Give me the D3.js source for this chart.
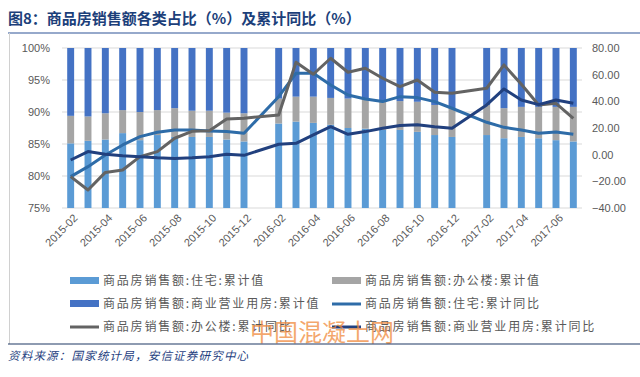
<!DOCTYPE html>
<html>
<head>
<meta charset="utf-8">
<script src="https://cdn.jsdelivr.net/npm/d3@7"></script>
<style>
	body{ margin:0; background:#fff; }
	svg text{ font-family:"Noto Sans CJK SC","Noto Sans",sans-serif; }
</style>
</head>
<body>
<div id="chart"></div>
<script>
// months (January has no data in the source, so it stays empty)
var categories = [
	"2015-02","2015-03","2015-04","2015-05","2015-06","2015-07","2015-08","2015-09","2015-10","2015-11","2015-12",
	"2016-01","2016-02","2016-03","2016-04","2016-05","2016-06","2016-07","2016-08","2016-09","2016-10","2016-11","2016-12",
	"2017-01","2017-02","2017-03","2017-04","2017-05","2017-06","2017-07"
];
var tickLabels = ["2015-02","2015-04","2015-06","2015-08","2015-10","2015-12",
	"2016-02","2016-04","2016-06","2016-08","2016-10","2016-12","2017-02","2017-04","2017-06"];

// shares (%)
var residentialShare = [85.1,85.5,85.7,86.7,85.6,86.4,86.1,86.1,86.1,85.7,85.4,
	null,88.2,88.5,88.3,88.0,87.5,87.4,87.2,87.2,86.9,86.4,86.1,
	null,86.4,85.9,86.1,85.9,85.6,85.4];
var officeShare = [4.3,3.8,4.1,3.6,4.4,3.9,4.5,4.1,4.1,4.2,4.4,
	null,3.9,3.9,4.1,4.2,4.6,4.6,4.5,4.5,4.7,4.7,4.5,
	null,4.7,4.7,4.7,4.9,5.2,5.4];
var commercialShare = [10.6,10.7,10.2,9.7,10.0,9.7,9.4,9.8,9.8,10.1,10.2,
	null,7.9,7.6,7.6,7.8,7.9,8.0,8.3,8.3,8.4,8.9,9.4,
	null,8.9,9.4,9.2,9.2,9.2,9.2];

// cumulative YoY (%)
var residentialYoY = [-16.5,-9.0,-0.3,7.3,13.5,16.8,18.5,18.5,17.8,17.3,16.0,
	null,43.5,61.0,61.0,52.3,44.8,41.8,39.8,43.5,42.8,39.8,34.8,
	null,24.3,20.5,18.5,16.0,17.0,15.3];
var officeYoY = [-16.5,-26.5,-13.3,-11.5,-1.5,2.3,12.3,17.5,18.0,26.8,27.3,
	null,29.8,69.3,60.3,72.3,61.8,64.8,57.3,51.0,56.0,46.8,46.0,
	null,49.8,67.3,52.8,37.3,38.5,27.3];
var commercialYoY = [-4.0,2.3,0.3,-0.8,-1.5,-2.3,-2.8,-2.3,-1.5,0.3,-0.5,
	null,7.8,8.5,14.8,21.0,15.3,17.3,19.8,21.8,22.5,21.0,19.8,
	null,37.3,49.3,41.0,37.5,41.0,38.5];

var leftTicks = [75,80,85,90,95,100];
var rightTicks = [-40,-20,0,20,40,60,80];

var W = 640, H = 377;
var plot = {left:62, right:582, top:48, bottom:208};

var svg = d3.select("#chart").append("svg")
	.attr("width", W).attr("height", H);

// title
svg.append("text")
	.attr("x", 8).attr("y", 24)
	.attr("font-size", 15).attr("font-weight", "bold")
	.attr("fill", "#1c3f7a")
	.text("图8：商品房销售额各类占比（%）及累计同比（%）");
svg.append("line")
	.attr("x1", 8).attr("x2", W).attr("y1", 33).attr("y2", 33)
	.attr("stroke", "#2f5597").attr("stroke-width", 1.2);
svg.append("line")
	.attr("x1", 9.5).attr("x2", 9.5).attr("y1", 33).attr("y2", 344)
	.attr("stroke", "#d0d0d0").attr("stroke-width", 1);

var x = d3.scaleBand().domain(categories).range([plot.left, plot.right]).padding(0);
var yL = d3.scaleLinear().domain([75, 100]).range([plot.bottom, plot.top]);
var yR = d3.scaleLinear().domain([-40, 80]).range([plot.bottom, plot.top]);
var cx = function(c){ return x(c) + x.bandwidth()/2; };

// grid
svg.append("g").selectAll("line").data(leftTicks).enter().append("line")
	.attr("x1", plot.left).attr("x2", plot.right)
	.attr("y1", function(d){ return yL(d); }).attr("y2", function(d){ return yL(d); })
	.attr("stroke", "#d9d9d9").attr("stroke-width", 1);

// left axis
var axL = svg.append("g").attr("transform", "translate(" + plot.left + ",0)")
	.call(d3.axisLeft(yL).tickValues(leftTicks).tickSize(0).tickPadding(12)
		.tickFormat(function(d){ return d + "%"; }));
axL.select(".domain").remove();
axL.selectAll("text").attr("font-size", 11).attr("fill", "#595959")
	.style("font-family", "'Liberation Sans','DejaVu Sans',sans-serif");

// right axis
var axR = svg.append("g").attr("transform", "translate(" + plot.right + ",0)")
	.call(d3.axisRight(yR).tickValues(rightTicks).tickSize(0).tickPadding(10)
		.tickFormat(d3.format(".2f")));
axR.select(".domain").remove();
axR.selectAll("text").attr("font-size", 11).attr("fill", "#595959")
	.style("font-family", "'Liberation Sans','DejaVu Sans',sans-serif");

// x axis labels
svg.append("g").selectAll("text").data(tickLabels).enter().append("text")
	.attr("transform", function(d){ return "translate(" + (cx(d) + 5) + "," + (plot.bottom + 8) + ") rotate(-45)"; })
	.attr("text-anchor", "end").attr("dy", "0.35em")
	.attr("font-size", 11).attr("fill", "#595959")
	.style("font-family", "'Liberation Sans','DejaVu Sans',sans-serif")
	.text(function(d){ return d; });

// stacked bars
var shareRows = categories.map(function(c, i){
	return {cat:c, res:residentialShare[i], off:officeShare[i], com:commercialShare[i]};
}).filter(function(d){ return d.res != null; });
var keys = ["res", "off", "com"];
var barColors = {res:"#5b9bd5", off:"#a5a5a5", com:"#4472c4"};
var stacked = d3.stack().keys(keys)(shareRows);

svg.append("clipPath").attr("id", "plotClip").append("rect")
	.attr("x", plot.left).attr("y", plot.top)
	.attr("width", plot.right - plot.left).attr("height", plot.bottom - plot.top);

var bw = x.bandwidth() * 0.4;
svg.append("g").attr("clip-path", "url(#plotClip)")
	.selectAll("g").data(stacked).enter().append("g")
	.attr("fill", function(s){ return barColors[s.key]; })
	.selectAll("rect").data(function(s){ return s; }).enter().append("rect")
	.attr("x", function(d){ return cx(d.data.cat) - bw/2; })
	.attr("width", bw)
	.attr("y", function(d){ return yL(Math.min(d[1], 100)); })
	.attr("height", function(d){ return yL(d[0]) - yL(Math.min(d[1], 100)); });

// lines
var lineSeries = [
	{name:"res", values:residentialYoY, color:"#2e6ca8"},
	{name:"off", values:officeYoY, color:"#636363"},
	{name:"com", values:commercialYoY, color:"#21407e"}
];
var line = d3.line()
	.x(function(d){ return cx(d.cat); })
	.y(function(d){ return yR(d.v); });

lineSeries.forEach(function(s){
	var pts = categories.map(function(c, i){ return {cat:c, v:s.values[i]}; })
		.filter(function(d){ return d.v != null; });
	svg.append("path").datum(pts)
		.attr("d", line)
		.attr("fill", "none")
		.attr("stroke", s.color)
		.attr("stroke-width", 3)
		.attr("stroke-linejoin", "round");
});

// legend
var legendItems = [
	{label:"商品房销售额:住宅:累计值", type:"bar", color:"#5b9bd5"},
	{label:"商品房销售额:办公楼:累计值", type:"bar", color:"#a5a5a5"},
	{label:"商品房销售额:商业营业用房:累计值", type:"bar", color:"#4472c4"},
	{label:"商品房销售额:住宅:累计同比", type:"line", color:"#2e6ca8"},
	{label:"商品房销售额:办公楼:累计同比", type:"line", color:"#636363"},
	{label:"商品房销售额:商业营业用房:累计同比", type:"line", color:"#21407e"}
];
var colX = [70, 332], rowY = [281, 304, 327];
var lg = svg.append("g").selectAll("g").data(legendItems).enter().append("g")
	.attr("transform", function(d, i){ return "translate(" + colX[i % 2] + "," + rowY[Math.floor(i / 2)] + ")"; });
lg.each(function(d){
	var g = d3.select(this);
	if(d.type == "bar"){
		g.append("rect").attr("x", 0).attr("y", -4).attr("width", 29).attr("height", 7).attr("fill", d.color);
	} else {
		g.append("line").attr("x1", 0).attr("x2", 29).attr("y1", 0).attr("y2", 0)
			.attr("stroke", d.color).attr("stroke-width", 3);
	}
	g.append("text").attr("x", 33).attr("y", 0).attr("dy", "0.35em")
		.attr("font-size", 12).attr("fill", "#595959")
		.attr("letter-spacing", 1.8)
		.text(d.label);
});

// watermark
svg.append("text")
	.attr("x", 250).attr("y", 341)
	.attr("font-size", 24).attr("fill", "#f08a3c").attr("fill-opacity", 0.75)
	.text("中国混凝土网");

// footer
svg.append("line")
	.attr("x1", 8).attr("x2", W).attr("y1", 344).attr("y2", 344)
	.attr("stroke", "#1f3864").attr("stroke-width", 1.2);
svg.append("text")
	.attr("x", 8).attr("y", 360)
	.attr("font-size", 11.5).attr("fill", "#1f3f7f")
	.attr("font-style", "italic").attr("letter-spacing", 1.2)
	.text("资料来源：国家统计局，安信证券研究中心");
</script>
</body>
</html>
